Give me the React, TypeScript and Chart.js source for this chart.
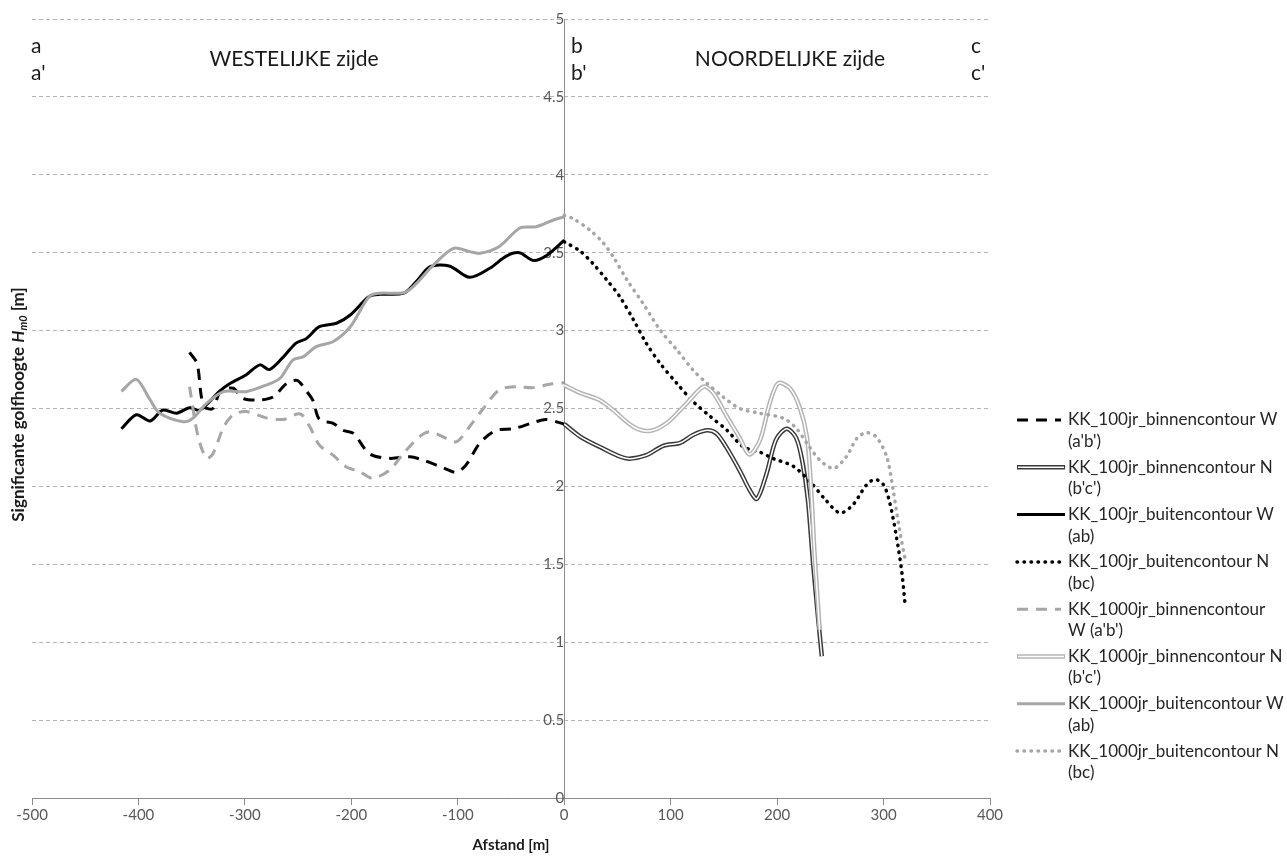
import React, { useEffect, useRef } from "react";
import { Chart, registerables } from "chart.js";

Chart.register(...registerables);

const FONT = "Lato, 'Open Sans', sans-serif";

// ---- Data (afstand [m], Hm0 [m]) ----
const w100BinnenX = [-352, -345, -341, -338, -330, -323, -311, -302, -286, -273, -261, -251, -242, -236, -230, -217, -208, -198, -183, -164, -145, -133, -114, -101, -92, -79, -64, -48, -29, -17, 0];
const w100BinnenY = [2.86, 2.79, 2.58, 2.51, 2.5, 2.61, 2.63, 2.565, 2.555, 2.576, 2.66, 2.68, 2.61, 2.55, 2.43, 2.405, 2.36, 2.34, 2.21, 2.18, 2.19, 2.17, 2.12, 2.09, 2.14, 2.28, 2.36, 2.37, 2.41, 2.43, 2.4];

const n100BinnenX = [0, 15, 33, 58, 77, 93, 109, 121, 134, 143, 152, 165, 174, 181, 190, 199, 209, 218, 224, 229, 234, 239, 242];
const n100BinnenY = [2.4, 2.32, 2.255, 2.18, 2.2, 2.26, 2.28, 2.33, 2.36, 2.34, 2.255, 2.1, 1.98, 1.92, 2.08, 2.3, 2.37, 2.31, 2.15, 1.91, 1.49, 1.12, 0.91];

const w100BuitenX = [-416, -402, -389, -377, -364, -352, -342, -324, -314, -299, -286, -277, -264, -252, -242, -230, -214, -201, -183, -173, -151, -139, -126, -108, -89, -70, -54, -42, -29, -17, 0];
const w100BuitenY = [2.37, 2.46, 2.42, 2.49, 2.47, 2.505, 2.49, 2.61, 2.66, 2.715, 2.78, 2.75, 2.83, 2.92, 2.95, 3.025, 3.047, 3.1, 3.22, 3.233, 3.24, 3.314, 3.41, 3.415, 3.342, 3.4, 3.48, 3.5, 3.45, 3.48, 3.58];

const n100BuitenX = [0, 15, 27, 40, 52, 65, 77, 90, 106, 121, 137, 153, 168, 184, 196, 215, 231, 246, 259, 271, 284, 292, 300, 306, 312, 317, 320];
const n100BuitenY = [3.57, 3.51, 3.43, 3.325, 3.22, 3.07, 2.92, 2.79, 2.66, 2.545, 2.45, 2.36, 2.255, 2.22, 2.18, 2.13, 2.03, 1.91, 1.83, 1.88, 2.01, 2.045, 2.01, 1.89, 1.68, 1.46, 1.26];

const w1000BinnenX = [-352, -344, -336, -330, -320, -311, -299, -280, -264, -248, -239, -230, -217, -205, -192, -180, -164, -151, -136, -126, -111, -101, -89, -76, -61, -45, -29, -14, 0];
const w1000BinnenY = [2.64, 2.32, 2.18, 2.21, 2.38, 2.46, 2.48, 2.44, 2.43, 2.465, 2.383, 2.265, 2.2, 2.126, 2.094, 2.052, 2.105, 2.212, 2.319, 2.351, 2.309, 2.287, 2.383, 2.5, 2.62, 2.64, 2.634, 2.655, 2.665];

const n1000BinnenX = [0, 15, 33, 46, 65, 80, 96, 115, 131, 140, 153, 165, 174, 184, 193, 201, 212, 221, 228, 232, 235, 240];
const n1000BinnenY = [2.65, 2.6, 2.555, 2.49, 2.383, 2.356, 2.405, 2.533, 2.64, 2.6, 2.447, 2.31, 2.205, 2.298, 2.533, 2.662, 2.63, 2.512, 2.319, 1.977, 1.59, 1.08];

const w1000BuitenX = [-416, -402, -389, -380, -358, -349, -336, -320, -299, -280, -267, -255, -245, -233, -217, -201, -183, -173, -148, -123, -104, -89, -79, -61, -42, -26, -10, 0];
const w1000BuitenY = [2.61, 2.687, 2.555, 2.469, 2.415, 2.437, 2.533, 2.608, 2.608, 2.65, 2.694, 2.81, 2.833, 2.897, 2.93, 3.025, 3.22, 3.24, 3.25, 3.42, 3.528, 3.507, 3.496, 3.54, 3.657, 3.667, 3.71, 3.73];

const n1000BuitenX = [0, 8, 24, 37, 46, 59, 74, 90, 106, 121, 134, 149, 165, 184, 206, 218, 228, 240, 253, 265, 275, 284, 293, 303, 309, 315, 321];
const n1000BuitenY = [3.74, 3.72, 3.646, 3.56, 3.474, 3.325, 3.175, 3.004, 2.875, 2.747, 2.662, 2.576, 2.5, 2.469, 2.437, 2.373, 2.277, 2.17, 2.116, 2.19, 2.309, 2.345, 2.319, 2.19, 1.977, 1.72, 1.506];

const legendLines: string[][] = [
  ["KK_100jr_binnencontour W", "(a'b')"],
  ["KK_100jr_binnencontour N", "(b'c')"],
  ["KK_100jr_buitencontour W", "(ab)"],
  ["KK_100jr_buitencontour N", "(bc)"],
  ["KK_1000jr_binnencontour", "W (a'b')"],
  ["KK_1000jr_binnencontour N", "(b'c')"],
  ["KK_1000jr_buitencontour W", "(ab)"],
  ["KK_1000jr_buitencontour N", "(bc)"],
];

const xMin = -500;
const xMax = 400;
const xStep = 100;
const yMin = 0;
const yMax = 5;
const yStep = 0.5;

const cornerLabels = [
  { t: "a", x: 31, y: 46 },
  { t: "a'", x: 31, y: 73 },
  { t: "b", x: 571, y: 46 },
  { t: "b'", x: 571, y: 73 },
  { t: "c", x: 971, y: 46 },
  { t: "c'", x: 971, y: 73 },
];
const sideTitles = [
  { t: "WESTELIJKE zijde", x: 294, y: 59 },
  { t: "NOORDELIJKE zijde", x: 790, y: 59 },
];

const BLACK = "#000000";
const GREY = "#a6a6a6";

type Style = { color: string; width: number; dash: number[]; cap: CanvasLineCap; double?: boolean };
const styles: Style[] = [
  { color: BLACK, width: 3, dash: [11, 8], cap: "butt" },
  { color: "#3a3a3a", width: 4.5, dash: [], cap: "butt", double: true },
  { color: BLACK, width: 3, dash: [], cap: "butt" },
  { color: BLACK, width: 3.5, dash: [0.5, 6.5], cap: "round" },
  { color: GREY, width: 3, dash: [11, 8], cap: "butt" },
  { color: "#b4b4b4", width: 4.5, dash: [], cap: "butt", double: true },
  { color: GREY, width: 3, dash: [], cap: "butt" },
  { color: GREY, width: 3.5, dash: [0.5, 6.5], cap: "round" },
];

const seriesX = [w100BinnenX, n100BinnenX, w100BuitenX, n100BuitenX, w1000BinnenX, n1000BinnenX, w1000BuitenX, n1000BuitenX];
const seriesY = [w100BinnenY, n100BinnenY, w100BuitenY, n100BuitenY, w1000BinnenY, n1000BinnenY, w1000BuitenY, n1000BuitenY];

const zip = (xs: number[], ys: number[]) => xs.map((x, i) => ({ x, y: ys[i] }));

const decorPlugin = {
  id: "decor",
  afterDraw(chart: any) {
    const ctx: CanvasRenderingContext2D = chart.ctx;
    const area = chart.chartArea;
    ctx.save();
    ctx.fillStyle = "#1a1a1a";
    ctx.textBaseline = "middle";

    // corner letters & side titles
    ctx.font = `21px ${FONT}`;
    ctx.textAlign = "left";
    cornerLabels.forEach((l) => ctx.fillText(l.t, l.x, l.y));
    ctx.textAlign = "center";
    sideTitles.forEach((l) => ctx.fillText(l.t, l.x, l.y));

    // x-axis title
    ctx.font = `bold 15px ${FONT}`;
    ctx.fillText("Afstand [m]", (area.left + area.right) / 2, 845);

    // y-axis title with italic H and subscript m0
    const parts = [
      { t: "Significante golfhoogte ", f: `bold 17px ${FONT}`, dy: 0 },
      { t: "H", f: `italic bold 17px ${FONT}`, dy: 0 },
      { t: "m0", f: `italic bold 11px ${FONT}`, dy: 4 },
      { t: " [m]", f: `bold 17px ${FONT}`, dy: 0 },
    ];
    let total = 0;
    parts.forEach((p) => {
      ctx.font = p.f;
      total += ctx.measureText(p.t).width;
    });
    ctx.save();
    ctx.translate(19, (area.top + area.bottom) / 2 - 4);
    ctx.rotate(-Math.PI / 2);
    ctx.textAlign = "left";
    let cx = -total / 2;
    parts.forEach((p) => {
      ctx.font = p.f;
      ctx.fillText(p.t, cx, p.dy);
      cx += ctx.measureText(p.t).width;
    });
    ctx.restore();

    // legend
    const LX0 = 1017;
    const LX1 = 1061;
    const TX = 1068;
    const Y0 = 420;
    const DY = 47.3;
    const LH = 21.5;
    chart.data.datasets.forEach((ds: any) => {
      if (ds.legendIndex === undefined) return;
      const i = ds.legendIndex;
      const s = styles[i];
      const y = Y0 + i * DY;
      ctx.save();
      ctx.strokeStyle = s.color;
      ctx.lineWidth = s.width;
      ctx.setLineDash(s.dash);
      ctx.lineCap = s.cap;
      ctx.beginPath();
      ctx.moveTo(LX0, y);
      ctx.lineTo(s.double || s.dash.length === 0 ? LX1 + 4 : LX1, y);
      ctx.stroke();
      if (s.double) {
        ctx.strokeStyle = "#ffffff";
        ctx.lineWidth = 1.5;
        ctx.beginPath();
        ctx.moveTo(LX0 + 1, y);
        ctx.lineTo(LX1 + 3, y);
        ctx.stroke();
      }
      ctx.restore();
      ctx.font = `17px ${FONT}`;
      ctx.textAlign = "left";
      ctx.fillStyle = "#262626";
      legendLines[i].forEach((line, k) => ctx.fillText(line, TX, y + k * LH));
    });
    ctx.restore();
  },
};

export default function App() {
  const ref = useRef<HTMLCanvasElement | null>(null);

  useEffect(() => {
    if (!ref.current) return;
    const datasets: any[] = [];
    seriesX.forEach((xs, i) => {
      const s = styles[i];
      const data = zip(xs, seriesY[i]);
      datasets.push({
        label: legendLines[i].join(" "),
        legendIndex: i,
        data,
        borderColor: s.color,
        backgroundColor: s.color,
        borderWidth: s.width,
        borderDash: s.dash,
        borderCapStyle: s.cap,
        pointRadius: 0,
        pointHoverRadius: 0,
        tension: 0.3,
        fill: false,
        order: 100 - i * 2,
      });
      if (s.double) {
        datasets.push({
          label: "",
          data,
          borderColor: "#ffffff",
          backgroundColor: "#ffffff",
          borderWidth: 1.5,
          pointRadius: 0,
          pointHoverRadius: 0,
          tension: 0.3,
          fill: false,
          order: 99 - i * 2,
        });
      }
    });

    const tickFont = { family: FONT, size: 15 };
    const chart = new Chart(ref.current, {
      type: "line",
      data: { datasets },
      options: {
        animation: false,
        responsive: true,
        maintainAspectRatio: false,
        parsing: false as any,
        layout: { padding: { left: 32, right: 297, top: 19, bottom: 59 } },
        plugins: {
          legend: { display: false },
          title: { display: false },
          tooltip: { enabled: false },
        },
        scales: {
          x: {
            type: "linear",
            position: { y: 0 } as any,
            min: xMin,
            max: xMax,
            ticks: {
              stepSize: xStep,
              color: "#595959",
              font: tickFont,
              padding: 2,
              maxRotation: 0,
              autoSkip: false,
              callback: (v: any) => String(v),
            },
            grid: { drawOnChartArea: false, drawTicks: true, tickLength: 6, color: "#8c8c8c" },
            border: { display: true, color: "#8c8c8c", width: 1 },
          },
          y: {
            type: "linear",
            position: { x: 0 } as any,
            min: yMin,
            max: yMax,
            ticks: {
              stepSize: yStep,
              color: "#595959",
              font: tickFont,
              padding: 5,
              callback: (v: any) => String(v),
            },
            grid: { drawTicks: false, color: "#b5b5b5", lineWidth: 1 },
            border: { display: true, color: "#8c8c8c", width: 1, dash: [4, 3] },
          },
        },
      },
      plugins: [decorPlugin],
    });
    return () => chart.destroy();
  }, []);

  return (
    <div style={{ position: "fixed", left: 0, top: 0, width: 1287, height: 857, background: "#fff" }}>
      <canvas ref={ref} />
    </div>
  );
}
